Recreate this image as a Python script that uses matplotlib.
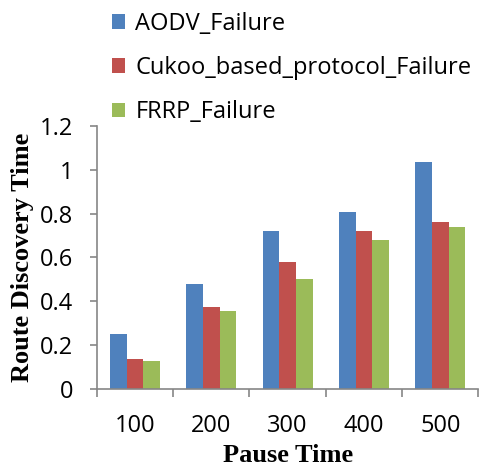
import matplotlib.pyplot as plt
import numpy as np

pause_times = ["100", "200", "300", "400", "500"]
aodv = [0.253, 0.478, 0.720, 0.807, 1.033]
cukoo = [0.138, 0.373, 0.579, 0.720, 0.760]
frrp = [0.127, 0.358, 0.502, 0.680, 0.739]
series_names = ["AODV_Failure", "Cukoo_based_protocol_Failure", "FRRP_Failure"]
colors = ["#4F81BD", "#C0504D", "#9BBB59"]

fig = plt.figure(figsize=(4.79, 4.67), dpi=100)
ax = fig.add_axes([0.2019, 0.1664, 0.797, 0.5645])

x = np.arange(len(pause_times))
w = 0.218
for i, (vals, name, c) in enumerate(zip([aodv, cukoo, frrp], series_names, colors)):
    ax.bar(x + (i - 1) * w, vals, w, color=c, label=name, edgecolor="none")

ax.set_xlim(-0.5, len(pause_times) - 0.5)
ax.set_ylim(0, 1.2)
ax.set_yticks(np.arange(0, 1.21, 0.2))
ax.set_yticklabels(["0", "0.2", "0.4", "0.6", "0.8", "1", "1.2"])
ax.set_xticks(x)
ax.set_xticklabels(pause_times)
ax.set_xticks(np.arange(-0.5, len(pause_times)), minor=True)

gray = "#868686"
for s in ["top", "right"]:
    ax.spines[s].set_visible(False)
for s in ["left", "bottom"]:
    ax.spines[s].set_color(gray)
    ax.spines[s].set_linewidth(1.2)

tick_font = "Open Sans"
ax.tick_params(axis="x", which="major", length=0, pad=18, labelsize=17)
ax.tick_params(axis="x", which="minor", length=6, width=1.2, color=gray)
ax.tick_params(axis="y", length=5, width=1.2, color=gray, pad=12, labelsize=17)
for lab in ax.get_xticklabels() + ax.get_yticklabels():
    lab.set_fontfamily(tick_font)

ax.set_xlabel("Pause Time", family="Liberation Serif", fontweight="bold",
              fontsize=19, labelpad=4)
ax.set_ylabel("Route Discovery Time", family="Liberation Serif",
              fontweight="bold", fontsize=19, labelpad=4)

fig.legend(loc="upper left", bbox_to_anchor=(112 / 479, 1 - 12 / 467),
           frameon=False, prop={"family": tick_font, "size": 17},
           handlelength=0.57, handleheight=0.57, handletextpad=0.42,
           borderpad=0, borderaxespad=0, labelspacing=0.85)

fig.savefig("out.png", dpi=100)
